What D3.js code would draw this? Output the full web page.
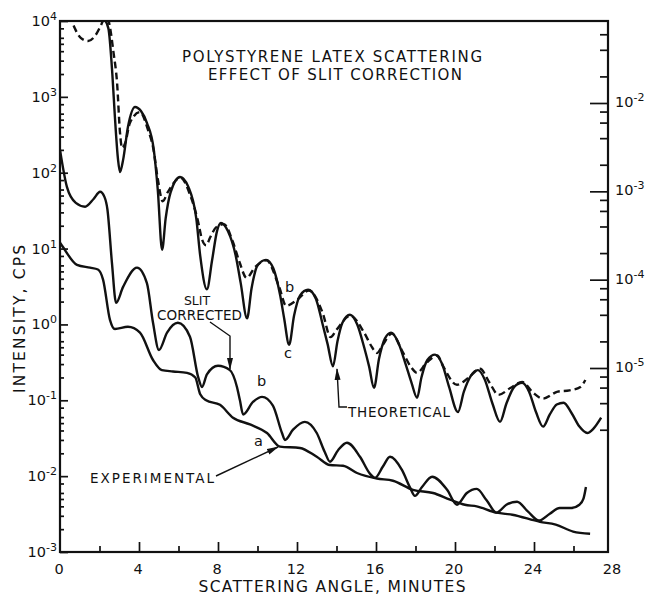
<!DOCTYPE html>
<html>
<head>
<meta charset="utf-8">
<script src="https://cdn.jsdelivr.net/npm/d3@7"></script>
<style>
body { margin: 0; background: #fff; }
text { font-family: "DejaVu Sans", sans-serif; fill: #111; }
</style>
</head>
<body>
<svg width="648" height="597"></svg>
<script>
// curve c - theoretical (solid, deep minima)
const theoX = [2.2, 2.45, 2.65, 2.78, 2.94, 3.04, 3.2, 3.44, 3.8, 4.1, 4.4, 4.75, 4.95, 5.17, 5.35, 5.6, 6.08, 6.5, 6.9, 7.1,
  7.44, 7.7, 7.95, 8.15, 8.5, 8.9, 9.15, 9.47, 9.7, 10.0, 10.43, 10.8, 11.15, 11.35, 11.6, 11.85, 12.15, 12.56, 12.95, 13.3,
  13.55, 13.82, 14.05, 14.3, 14.68, 15.05, 15.4, 15.65, 15.9, 16.15, 16.45, 16.76, 17.1, 17.5, 17.8, 18.08, 18.3, 18.6, 18.99, 19.35,
  19.7, 20.15, 20.45, 20.8, 21.16, 21.5, 21.9, 22.28, 22.6, 23.0, 23.4, 23.75, 24.1, 24.46, 24.8, 25.15, 25.5, 25.9, 26.3, 26.7,
  27.0, 27.4];
const theoY = [11000, 8000, 2000, 543, 148, 102, 150, 400, 736, 650, 455, 200, 60, 9.6, 25, 55, 88, 65, 25, 8,
  2.9, 7, 17, 21.8, 17, 8, 3.5, 1.2, 3, 6, 7.1, 5.5, 2.4, 1.2, 0.54, 1.3, 2.4, 2.86, 2.2, 1.0,
  0.55, 0.28, 0.6, 1.05, 1.34, 1.0, 0.5, 0.28, 0.146, 0.35, 0.65, 0.78, 0.6, 0.3, 0.17, 0.108, 0.2, 0.34, 0.40, 0.3,
  0.15, 0.07, 0.13, 0.21, 0.25, 0.19, 0.09, 0.052, 0.09, 0.15, 0.17, 0.13, 0.07, 0.045, 0.065, 0.088, 0.093, 0.068, 0.045, 0.037,
  0.042, 0.059];

// curve b - dashed
const dashX = [0.5, 0.75, 1.05, 1.42, 1.8, 2.05, 2.25, 2.4, 2.53, 2.7, 2.89, 3.04, 3.14, 3.3, 3.54, 4.05, 4.46, 4.71, 4.96, 5.2,
  5.45, 6.1, 6.6, 6.97, 7.2, 7.4, 7.6, 7.9, 8.3, 8.75, 9.1, 9.45, 9.85, 10.45, 11.1, 11.45, 12.0, 12.6, 13.3, 13.7,
  14.0, 14.7, 15.4, 15.8, 16.05, 16.35, 16.8, 17.3, 17.75, 18.08, 18.55, 19.1, 19.4, 20.1, 20.7, 21.27, 21.75, 22.2, 22.8, 23.4,
  23.95, 24.45, 25.2, 25.8, 26.35, 26.6];
const dashY = [12000, 8000, 6000, 5450, 6500, 8500, 10800, 11000, 8300, 4000, 1520, 333, 212, 245, 453, 630, 365, 218, 80, 42,
  55, 86, 50, 24, 13, 11, 14, 19, 21, 12.3, 6.5, 4.1, 5.6, 7.0, 3.1, 1.76, 2.1, 2.8, 1.42, 0.68,
  0.85, 1.3, 0.78, 0.5, 0.42, 0.54, 0.76, 0.46, 0.28, 0.23, 0.31, 0.39, 0.28, 0.16, 0.2, 0.26, 0.17, 0.118, 0.145, 0.175,
  0.126, 0.105, 0.13, 0.135, 0.15, 0.185];

// slit corrected (middle solid)
const corrX = [0, 0.35, 0.8, 1.27, 1.7, 2.03, 2.25, 2.4, 2.63, 2.84, 3.19, 3.9, 4.4, 4.71, 5.01, 5.42, 5.97, 6.58, 7.0, 7.19,
  7.44, 8.0, 8.6, 8.96, 9.11, 9.27, 9.77, 10.23, 10.78, 11.24, 11.39, 11.8, 12.4, 13.0, 13.4, 13.67, 14.08, 14.53, 15.19, 15.7,
  15.95, 16.35, 16.71, 17.32, 17.72, 17.97, 18.33, 18.84, 19.6, 20.1, 20.6, 21.1, 21.6, 22.1, 22.6, 23.14, 23.7, 24.25, 24.8, 25.3,
  25.9, 26.3, 26.5, 26.63];
const corrY = [200, 65, 40, 35.6, 45, 56, 48, 33, 6.5, 1.93, 3.1, 5.6, 3.5, 1.05, 0.46, 0.78, 1.05, 0.69, 0.2, 0.15,
  0.22, 0.285, 0.25, 0.15, 0.1, 0.065, 0.095, 0.111, 0.085, 0.037, 0.030, 0.041, 0.052, 0.037, 0.021, 0.0155, 0.022, 0.0275, 0.018, 0.0107,
  0.0095, 0.0134, 0.018, 0.012, 0.0071, 0.0055, 0.0072, 0.0098, 0.0066, 0.0042, 0.006, 0.0068, 0.0048, 0.0033, 0.0042, 0.0046, 0.0034, 0.0026, 0.0032, 0.0038,
  0.0038, 0.0042, 0.005, 0.0072];

// experimental (curve a)
const expX = [0, 0.15, 0.86, 1.52, 1.92, 2.18, 2.53, 2.78, 3.44, 4.05, 4.71, 5.16, 5.72, 6.43, 6.85, 7.1, 7.4, 8.1, 8.76, 9.62,
  10.48, 11.14, 12.15, 13.0, 13.67, 14.33, 15.04, 16.05, 16.86, 17.87, 18.89, 19.75, 20.5, 21.1, 22.1, 22.9, 24.3, 25.1, 25.98, 26.84];
const expY = [12, 10.5, 6.1, 5.6, 5.3, 3.9, 1.15, 0.87, 0.93, 0.78, 0.34, 0.25, 0.24, 0.23, 0.2, 0.12, 0.1, 0.087, 0.059, 0.048,
  0.037, 0.0245, 0.0235, 0.018, 0.014, 0.0137, 0.011, 0.0093, 0.0087, 0.0066, 0.006, 0.0049, 0.0042, 0.004, 0.0033, 0.0031, 0.0025, 0.0023, 0.00186, 0.00174];

const xTickLabels = [0, 4, 8, 12, 16, 20, 24, 28];
const xMinorTicks = [2, 6, 10, 14, 18, 22, 26];
const leftPowers = [4, 3, 2, 1, 0, -1, -2, -3];
const leftMinorMults = [2, 3, 4, 5, 6, 8];
const rightPowers = [-2, -3, -4, -5];
const rightMinorMults = [2, 4, 6, 8];

var svg = d3.select("svg"),
    margin = {top: 21, left: 60},
    width = 548,
    height = 531;

var x = d3.scaleLinear().domain([0, 28]).range([0, 553]);
var y = d3.scaleLog().domain([1e-3, 1e4]).range([height, 0]);
var y2 = d3.scaleLog().domain([1e-5, 1e-2]).range([347, 82]);

var defs = svg.append("defs");
defs.append("clipPath").attr("id", "plotclip")
    .append("rect").attr("width", width).attr("height", height);
defs.append("marker")
    .attr("id", "arrow").attr("viewBox", "0 -4 12 8")
    .attr("refX", 11).attr("refY", 0)
    .attr("markerWidth", 12).attr("markerHeight", 8)
    .attr("markerUnits", "userSpaceOnUse")
    .attr("orient", "auto")
  .append("path").attr("d", "M0,-3L12,0L0,3Z").attr("fill", "#111");

var g = svg.append("g")
    .attr("transform", "translate(" + margin.left + "," + margin.top + ")");

// ticks
var leftMinor = [];
leftPowers.forEach(function(p) {
    if (p < 4) leftMinorMults.forEach(function(m) { leftMinor.push(m * Math.pow(10, p)); });
});
var rightMinor = [];
[-2, -3, -4, -5, -6].forEach(function(p) {
    rightMinorMults.forEach(function(m) {
        var v = m * Math.pow(10, p);
        if (v < 0.07) rightMinor.push(v);
    });
});

function styleAxis(sel) {
    sel.select(".domain").remove();
    sel.selectAll("line").attr("stroke", "#111").attr("stroke-width", 1.7);
}

g.append("g").call(d3.axisRight(y).tickValues(leftMinor).tickSize(4).tickFormat("")).call(styleAxis);
g.append("g").call(d3.axisRight(y).tickValues(leftPowers.map(function(p) { return Math.pow(10, p); })).tickSize(8).tickFormat("")).call(styleAxis);

g.append("g").attr("transform", "translate(" + width + ",0)")
    .call(d3.axisLeft(y2).tickValues(rightMinor).tickSize(8).tickFormat("")).call(styleAxis);
g.append("g").attr("transform", "translate(" + width + ",0)")
    .call(d3.axisLeft(y2).tickValues(rightPowers.map(function(p) { return Math.pow(10, p); })).tickSize(18).tickFormat("")).call(styleAxis);

g.append("g").attr("transform", "translate(0," + height + ")")
    .call(d3.axisTop(x).tickValues(xMinorTicks).tickSize(6).tickFormat("")).call(styleAxis);
g.append("g").attr("transform", "translate(0," + height + ")")
    .call(d3.axisTop(x).tickValues(xTickLabels.slice(1, -1)).tickSize(10).tickFormat("")).call(styleAxis);

g.append("rect")
    .attr("width", width).attr("height", height)
    .attr("fill", "none").attr("stroke", "#111").attr("stroke-width", 2.2);

// tick labels
g.selectAll(".xlab").data(xTickLabels).enter().append("text")
    .attr("class", "xlab")
    .attr("x", function(d) { return x(d) - 1; })
    .attr("y", height + 22)
    .attr("text-anchor", "middle")
    .style("font-size", "14.5px")
    .text(function(d) { return d; });

var ll = g.selectAll(".ylab").data(leftPowers).enter().append("text")
    .attr("class", "ylab")
    .attr("x", -3)
    .attr("y", function(d) { return y(Math.pow(10, d)) + 5; })
    .attr("text-anchor", "end")
    .style("font-size", "14.5px");
ll.append("tspan").text("10");
ll.append("tspan").attr("dy", -6).style("font-size", "11px").text(function(d) { return d; });

var rl = g.selectAll(".y2lab").data(rightPowers).enter().append("text")
    .attr("class", "y2lab")
    .attr("x", width + 7)
    .attr("y", function(d) { return y2(Math.pow(10, d)) + 4; })
    .style("font-size", "14.5px");
rl.append("tspan").text("10");
rl.append("tspan").attr("dy", -6).style("font-size", "11px").text(function(d) { return d; });

// curves
var line = d3.line()
    .x(function(d) { return x(d[0]); })
    .y(function(d) { return y(d[1]); })
    .curve(d3.curveMonotoneX);

var curves = g.append("g").attr("clip-path", "url(#plotclip)");
[[theoX, theoY, null], [dashX, dashY, "7,4"], [corrX, corrY, null], [expX, expY, null]].forEach(function(s) {
    curves.append("path")
        .datum(d3.zip(s[0], s[1]))
        .attr("fill", "none")
        .attr("stroke", "#111")
        .attr("stroke-width", 2.4)
        .attr("stroke-dasharray", s[2])
        .attr("d", line);
});

// titles
svg.append("text").attr("x", 332).attr("y", 62).attr("text-anchor", "middle")
    .attr("textLength", 300).attr("lengthAdjust", "spacing")
    .style("font-size", "15px").text("POLYSTYRENE LATEX SCATTERING");
svg.append("text").attr("x", 335).attr("y", 80).attr("text-anchor", "middle")
    .attr("textLength", 254).attr("lengthAdjust", "spacing")
    .style("font-size", "15px").text("EFFECT OF SLIT CORRECTION");
svg.append("text").attr("x", 332).attr("y", 592).attr("text-anchor", "middle")
    .attr("textLength", 267).attr("lengthAdjust", "spacing")
    .style("font-size", "15.5px").text("SCATTERING ANGLE, MINUTES");
svg.append("text").attr("transform", "translate(25,319) rotate(-90)").attr("text-anchor", "middle")
    .attr("textLength", 148).attr("lengthAdjust", "spacing")
    .style("font-size", "15.5px").text("INTENSITY, CPS");

// annotations
function label(tx, ty, txt, len) {
    var t = svg.append("text").attr("x", tx).attr("y", ty).style("font-size", "13.5px").text(txt);
    if (len) t.attr("textLength", len).attr("lengthAdjust", "spacing");
    return t;
}
label(197, 305, "SLIT").attr("text-anchor", "middle").style("font-size", "12.5px");
label(157, 320, "CORRECTED", 85);
label(348, 417, "THEORETICAL", 102);
label(90, 483, "EXPERIMENTAL", 124);
label(285, 292, "b").style("font-size", "14.5px");
label(284, 358, "c").style("font-size", "14.5px");
label(257, 386, "b").style("font-size", "14.5px");
label(254, 446, "a").style("font-size", "14.5px");

function arrow(pts) {
    svg.append("path")
        .attr("d", d3.line()(pts))
        .attr("fill", "none").attr("stroke", "#111").attr("stroke-width", 1.4)
        .attr("marker-end", "url(#arrow)");
}
arrow([[210, 322], [230, 336], [230, 369]]);
arrow([[347, 407], [339, 407], [337, 369]]);
arrow([[216, 476], [278, 447]]);
</script>
</body>
</html>
